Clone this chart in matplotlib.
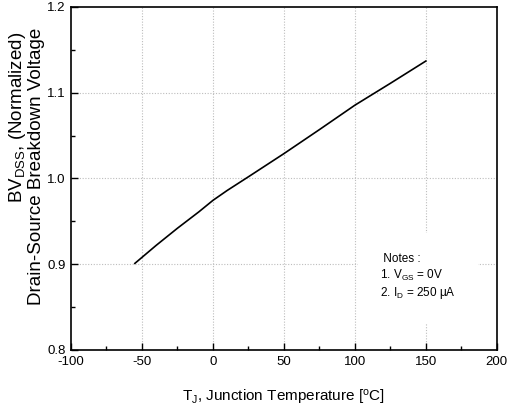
import matplotlib
matplotlib.use("Agg")
import matplotlib.pyplot as plt
from matplotlib.ticker import MultipleLocator

plt.rcParams['font.family'] = ['Liberation Sans', 'DejaVu Sans']
plt.rcParams['mathtext.default'] = 'regular'

# curve
temp_c = [-55, -40, -25, -10, 0, 10, 25, 50, 75, 100, 125, 150]
bv_norm = [0.901, 0.922, 0.942, 0.961, 0.9745, 0.986, 1.002, 1.029, 1.057, 1.0855, 1.111, 1.137]

x_ticks = [-100, -50, 0, 50, 100, 150, 200]
y_ticks = [0.8, 0.9, 1.0, 1.1, 1.2]

notes = [' Notes :', '1. V$_{GS}$ = 0V', '2. I$_{D}$ = 250 \u03bcA']


fig = plt.figure(figsize=(5.07, 4.19), dpi=100)
ax = fig.add_axes([0.140, 0.1647, 0.840, 0.8186])

ax.plot(temp_c, bv_norm, color='black', linewidth=1.2, zorder=3)

ax.set_xlim(-100, 200)
ax.set_ylim(0.8, 1.2)
ax.set_xticks(x_ticks)
ax.set_yticks(y_ticks)
ax.set_xticklabels([str(v) for v in x_ticks])
ax.set_yticklabels([f'{v:.1f}' for v in y_ticks])
ax.xaxis.set_minor_locator(MultipleLocator(25))
ax.yaxis.set_minor_locator(MultipleLocator(0.05))

ax.tick_params(which='both', direction='in', top=False, right=False, labelsize=9.5, pad=4)
ax.tick_params(which='major', length=5, width=1.0)
ax.tick_params(which='minor', length=3, width=1.0)

for s in ax.spines.values():
    s.set_linewidth(1.2)

# dotted grid only on the inner major ticks
for xv in x_ticks[1:-1]:
    ax.axvline(xv, color='#bdbdbd', linestyle=(0, (1, 1.5)), linewidth=0.8, zorder=1)
for yv in y_ticks[1:-1]:
    ax.axhline(yv, color='#bdbdbd', linestyle=(0, (1, 1.5)), linewidth=0.8, zorder=1)

ax.set_xlabel('T$_{J}$, Junction Temperature [$^{o}$C]', fontsize=11, labelpad=15)

fig.text(0.034, 0.924, 'BV$_{DSS}$, (Normalized)', rotation=90, fontsize=13.5,
         ha='center', va='top')
fig.text(0.072, 0.933, 'Drain-Source Breakdown Voltage', rotation=90, fontsize=13.5,
         ha='center', va='top')

ax.text(144.5, 0.885, '\n'.join(notes), fontsize=8.5, ha='center', va='center',
        multialignment='left', linespacing=1.25, zorder=4,
        bbox=dict(facecolor='white', edgecolor='none', pad=16))

fig.savefig('out.png', dpi=100)
